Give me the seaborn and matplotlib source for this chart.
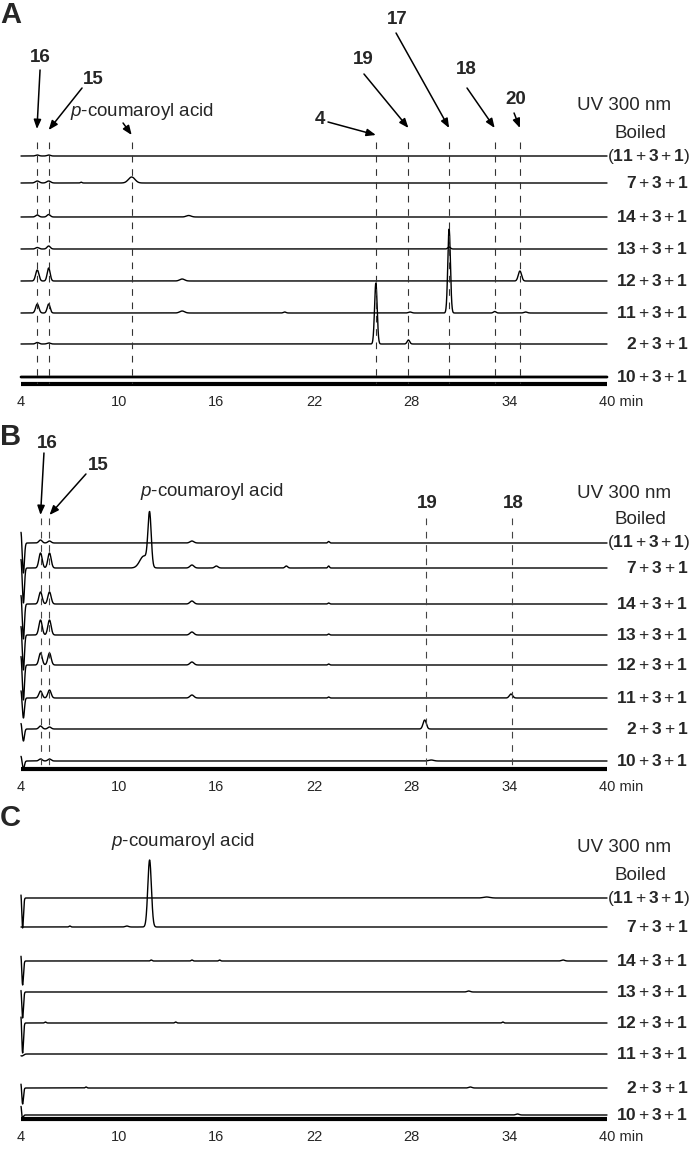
import numpy as np
import pandas as pd
import matplotlib
matplotlib.use("Agg")
import matplotlib.pyplot as plt
from matplotlib.transforms import ScaledTranslation
import seaborn as sns

# ---- data ----
samples = ['11+3+1', '7+3+1', '14+3+1', '13+3+1', '12+3+1', '11+3+1', '2+3+1', '10+3+1']
time_ticks = [4, 10, 16, 22, 28, 34, 40]

# peaks per trace: (retention time min, height, width)
a_peaks = [
    [(5.0, 1, .10), (5.7, 1, .10)],
    [(5.0, 2, .12), (5.7, 2, .12), (7.7, 0.8, .05), (10.8, 6, .20)],
    [(5.0, 2, .10), (5.7, 2.5, .10), (14.3, 1.5, .15)],
    [(5.0, 1.5, .10), (5.7, 3, .10), (30.3, 2, .08)],
    [(5.0, 11, .10), (5.7, 13, .09), (13.9, 2, .15), (34.65, 10, .10)],
    [(5.0, 9, .10), (5.7, 9, .09), (13.9, 2, .15), (20.2, 1, .08), (27.9, 1, .1),
     (30.3, 84, .08), (33.1, 1.5, .08), (35.0, 1, .1)],
    [(5.0, 1.5, .10), (5.7, 1, .10), (25.8, 61, .08), (27.8, 4, .08)],
    [],
]
b_peaks = [
    [(4.0, 12, .04), (4.15, -30, .06), (5.2, 3, .10), (5.75, 2, .10), (14.5, 2, .12), (22.9, 1.5, .05)],
    [(4.0, 10, .04), (4.15, -35, .06), (5.2, 15, .10), (5.75, 15, .10), (11.55, 12, .25), (11.9, 52, .10),
     (14.5, 3, .12), (16.0, 2, .10), (20.3, 2, .08), (22.9, 2, .05)],
    [(4.0, 10, .04), (4.15, -35, .06), (5.2, 12, .10), (5.75, 12, .10), (14.5, 3, .12), (22.9, 1, .05)],
    [(4.0, 10, .04), (4.15, -35, .06), (5.2, 15, .10), (5.75, 15, .10), (14.5, 3, .12), (22.9, 1, .05)],
    [(4.0, 10, .04), (4.15, -35, .06), (5.2, 12, .10), (5.75, 12, .10), (14.5, 3, .12), (22.9, 1, .05)],
    [(4.0, 8, .04), (4.15, -20, .06), (5.2, 7, .10), (5.75, 8, .10), (14.5, 3, .12), (22.9, 1, .05),
     (34.1, 4, .10)],
    [(4.0, 6, .04), (4.15, -12, .06), (5.2, 3, .10), (5.75, 2, .10), (28.8, 9, .10)],
    [(4.0, 5, .04), (4.15, -8, .06), (5.2, 2, .10), (5.75, 2, .10), (29.2, 1, .15)],
]
c_peaks = [
    [(4.0, 7, .03), (4.1, -30, .05), (32.6, 1, .2)],
    [(7.0, 1, .05), (10.5, 1, .10), (11.9, 67, .11)],
    [(4.0, 8, .03), (4.1, -24, .05), (12.0, 1, .05), (14.5, 1, .05), (16.2, 1, .05), (37.3, 1, .1)],
    [(4.0, 5, .03), (4.1, -26, .05), (31.5, 1, .1)],
    [(4.0, 10, .03), (4.1, -30, .05), (5.5, 1, .05), (13.5, 1, .05), (33.6, 1, .05)],
    [(4.05, -2, .10)],
    [(4.0, 6, .03), (4.1, -16, .05), (8.0, 1, .05), (31.6, 1, .10)],
    [(4.0, 9, .03), (4.1, -3, .05), (34.5, 1, .10)],
]

a_marks = ['16', '15', 'pca', '4', '19', '17', '18', '20']
a_mark_rt = [4.98, 5.7, 10.8, 25.8, 27.8, 30.3, 33.1, 34.65]
b_marks = ['16', '15', '19', '18']
b_mark_rt = [5.2, 5.75, 28.85, 34.15]

# ---- layout (figure pixels from top) ----
a_base = [156, 183, 217, 249, 281, 313, 344, 377]
b_base = [543, 568, 604, 635, 665, 698, 729, 761]
c_base = [898, 927, 961, 992, 1023, 1054, 1088, 1115]
W, H = 693, 1149

sns.set_style("white")
plt.rcParams['font.family'] = ['Liberation Sans', 'DejaVu Sans']
plt.rcParams['mathtext.fontset'] = 'custom'
plt.rcParams['mathtext.rm'] = 'Liberation Sans'
plt.rcParams['mathtext.bf'] = 'Liberation Sans:bold'
plt.rcParams['mathtext.it'] = 'Liberation Sans:italic'

t = np.linspace(4, 40, 4000)
PCA = r'$\it{p}$-coumaroyl acid'


def sample_label(s, boiled=False):
    lab = '$' + '+'.join(r'\mathbf{%s}' % p for p in s.split('+')) + '$'
    return '(' + lab + ')' if boiled else lab


def make_panel(top, axis_y, peaks, bases):
    ax = fig.add_axes([0, 1 - axis_y / H, 1, (axis_y - top) / H])
    frames = []
    for i, (pk, base) in enumerate(zip(peaks, bases)):
        y = np.full_like(t, float(base))
        for rt, h, w in pk:
            y -= h * np.exp(-0.5 * ((t - rt) / w) ** 2)
        frames.append(pd.DataFrame({'t': t, 'y': y, 'trace': i}))
    df = pd.concat(frames)
    sns.lineplot(data=df, x='t', y='y', units='trace', estimator=None, sort=False,
                 color='black', linewidth=1.0, ax=ax, legend=False)
    ax.set_xlim(4 - 21 / 16.278, 4 + (W - 21) / 16.278)
    ax.set_ylim(axis_y, top)
    ax.hlines(axis_y, 4, 40, color='black', lw=3, clip_on=False)
    ax.set(xlabel='', ylabel='', yticks=[])
    ax.set_xticks(time_ticks, labels=[str(v) for v in time_ticks[:-1]] + ['40 min'])
    ax.tick_params(axis='x', length=0, pad=8, labelsize=10.5)
    last = ax.get_xticklabels()[-1]
    last.set_horizontalalignment('left')
    last.set_transform(last.get_transform() + ScaledTranslation(-5.5 / 72, 0, fig.dpi_scale_trans))
    sns.despine(ax=ax, left=True, bottom=True)
    ax.patch.set_alpha(0)
    # right-hand labels
    for i, (s, base) in enumerate(zip(samples, bases)):
        ax.text(45.0 if i else 45.12, base, sample_label(s, boiled=(i == 0)),
                ha='right', va='center', fontsize=12.5)
    ax.text(38.16, bases[0] - 50, 'UV 300 nm', ha='left', va='center', fontsize=13.5)
    ax.text(40.43, bases[0] - 23, 'Boiled', ha='left', va='center', fontsize=13.5)
    return ax


fig = plt.figure(figsize=(W / 100, H / 100), dpi=100)

# ---- panel A ----
axA = make_panel(0, 384, a_peaks, a_base)
axA.lines[7].set_linewidth(2.0)
axA.vlines(a_mark_rt, 142, 384, colors='#333333', linestyles=(0, (6, 6)), lw=0.8)
a_text = {'16': (5.17, 57), '15': (8.42, 79), 'pca': (11.46, 112), '4': (22.37, 119),
          '19': (25.01, 60), '17': (27.10, 19), '18': (31.34, 69), '20': (34.41, 99)}
a_tail = {'16': (5.17, 70), '15': (7.75, 88), 'pca': (10.27, 123), '4': (22.86, 122),
          '19': (25.07, 74), '17': (27.04, 33), '18': (31.40, 88), '20': (34.29, 113)}
a_tip_y = {'16': 129, '15': 130, 'pca': 135, '4': 135, '19': 128, '17': 128, '18': 128, '20': 128}
arrow = dict(arrowstyle='-|>,head_length=0.55,head_width=0.22', color='black', lw=1.1,
             shrinkA=0, shrinkB=0)
for m, rt in zip(a_marks, a_mark_rt):
    tx, ty = a_text[m]
    if m == 'pca':
        axA.text(tx, ty, PCA, ha='center', va='center', fontsize=13.5)
    else:
        axA.text(tx, ty, m, ha='center', va='center', fontsize=13.5, fontweight='bold')
    axA.annotate('', xy=(rt, a_tip_y[m]), xytext=a_tail[m], arrowprops=arrow)

# ---- panel B ----
axB = make_panel(395, 769, b_peaks, b_base)
axB.vlines(b_mark_rt, 518, 769, colors='#444444', linestyles=(0, (6, 6)), lw=0.8)
axB.text(5.6, 443, '16', ha='center', va='center', fontsize=13.5, fontweight='bold')
axB.text(8.73, 466, '15', ha='center', va='center', fontsize=13.5, fontweight='bold')
axB.annotate('', xy=(b_mark_rt[0], 515), xytext=(5.41, 453), arrowprops=arrow)
axB.annotate('', xy=(b_mark_rt[1], 515), xytext=(7.99, 474), arrowprops=arrow)
axB.text(15.73, 492, PCA, ha='center', va='center', fontsize=13.5)
axB.text(28.94, 504, '19', ha='center', va='center', fontsize=13.5, fontweight='bold')
axB.text(34.22, 504, '18', ha='center', va='center', fontsize=13.5, fontweight='bold')

# ---- panel C ----
axC = make_panel(790, 1119, c_peaks, c_base)
axC.text(13.95, 842, PCA, ha='center', va='center', fontsize=13.5)

# panel letters
for lab, y in [('A', 15), ('B', 437), ('C', 818)]:
    fig.text(0, 1 - y / H, lab, ha='left', va='center', fontsize=21, fontweight='bold')

fig.savefig('out.png', dpi=100)
